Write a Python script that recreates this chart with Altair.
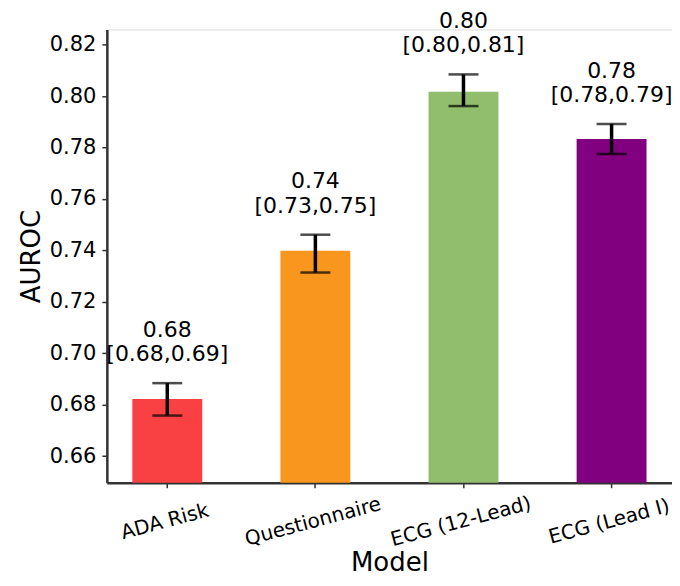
import altair as alt
import pandas as pd

models = ["ADA Risk", "Questionnaire", "ECG (12-Lead)", "ECG (Lead I)"]
auroc = [0.6822, 0.7399, 0.8017, 0.7833]
err_low = [0.6758, 0.7314, 0.7961, 0.7775]
err_high = [0.6884, 0.7461, 0.8084, 0.7891]
ci_low = [0.68, 0.73, 0.80, 0.78]
ci_high = [0.69, 0.75, 0.81, 0.79]
colors = ["#F94144", "#F8961E", "#90BE6D", "#800080"]
y_ticks = [0.66, 0.68, 0.70, 0.72, 0.74, 0.76, 0.78, 0.80, 0.82]
y_domain = [0.6497, 0.8259]

df = pd.DataFrame({
    "model": models,
    "auroc": auroc,
    "err_low": err_low,
    "err_high": err_high,
})
df["base"] = y_domain[0]
df["value_label"] = [f"{v:.2f}" for v in auroc]
df["ci_label"] = [f"[{l:.2f},{h:.2f}]" for l, h in zip(ci_low, ci_high)]

FONT = "DejaVu Sans"
AXIS_COLOR = "#333333"

x_enc = alt.X(
    "model:N",
    sort=models,
    scale=alt.Scale(paddingInner=0.528, paddingOuter=0.172),
    axis=alt.Axis(
        title="Model",
        titleFontSize=26,
        titleFontWeight="normal",
        titleColor="black",
        titleFont=FONT,
        titleY=88,
        titleBaseline="alphabetic",
        labelAngle=-15,
        labelAlign="center",
        labelBaseline="top",
        labelFontSize=20,
        labelFont=FONT,
        labelColor="black",
        labelPadding=24,
        labelOffset=-5,
        labelLimit=400,
        labelOverlap=False,
        tickSize=5,
        tickWidth=1.5,
        tickColor=AXIS_COLOR,
        domainColor=AXIS_COLOR,
        domainWidth=2.5,
        grid=False,
    ),
)

y_scale = alt.Scale(domain=y_domain, nice=False, zero=False)
y_axis = alt.Axis(
    title="AUROC",
    titleFontSize=26,
    titleFontWeight="normal",
    titleColor="black",
    titleFont=FONT,
    titleAngle=-90,
    titleX=-67,
    titleY=227,
    titleAlign="center",
    titleBaseline="alphabetic",
    values=y_ticks,
    format=".2f",
    labelFontSize=21,
    labelFont=FONT,
    labelColor="black",
    labelPadding=6,
    tickSize=5,
    tickWidth=1.5,
    tickColor=AXIS_COLOR,
    domainColor=AXIS_COLOR,
    domainWidth=2.5,
    grid=False,
)

base = alt.Chart(df).encode(x=x_enc)

bars = base.mark_bar().encode(
    y=alt.Y("auroc:Q", scale=y_scale, axis=y_axis),
    y2="base:Q",
    color=alt.Color("model:N", scale=alt.Scale(domain=models, range=colors), legend=None),
)

err = base.mark_rule(color="black", strokeWidth=3.5).encode(
    y=alt.Y("err_low:Q", scale=y_scale, axis=y_axis),
    y2="err_high:Q",
)

cap_low = base.mark_tick(color="black", size=30, thickness=2.5, orient="horizontal").encode(
    y=alt.Y("err_low:Q", scale=y_scale, axis=y_axis),
)
cap_high = base.mark_tick(color="black", size=30, thickness=2.5, orient="horizontal").encode(
    y=alt.Y("err_high:Q", scale=y_scale, axis=y_axis),
)

txt_ci = base.mark_text(
    font=FONT, fontSize=22, color="black", align="center", baseline="alphabetic", dy=-22
).encode(
    y=alt.Y("err_high:Q", scale=y_scale, axis=y_axis),
    text="ci_label:N",
)
txt_val = base.mark_text(
    font=FONT, fontSize=22, color="black", align="center", baseline="alphabetic", dy=-46.3
).encode(
    y=alt.Y("err_high:Q", scale=y_scale, axis=y_axis),
    text="value_label:N",
)

chart = alt.layer(bars, err, cap_low, cap_high, txt_ci, txt_val).properties(
    width=566,
    height=454,
    autosize=alt.AutoSizeParams(type="none"),
    padding={"left": 99, "top": 21, "right": 0, "bottom": 95},
).configure_view(stroke=None).configure(background="white")

chart.save("out.html", embed_options={"renderer": "svg", "actions": False})
